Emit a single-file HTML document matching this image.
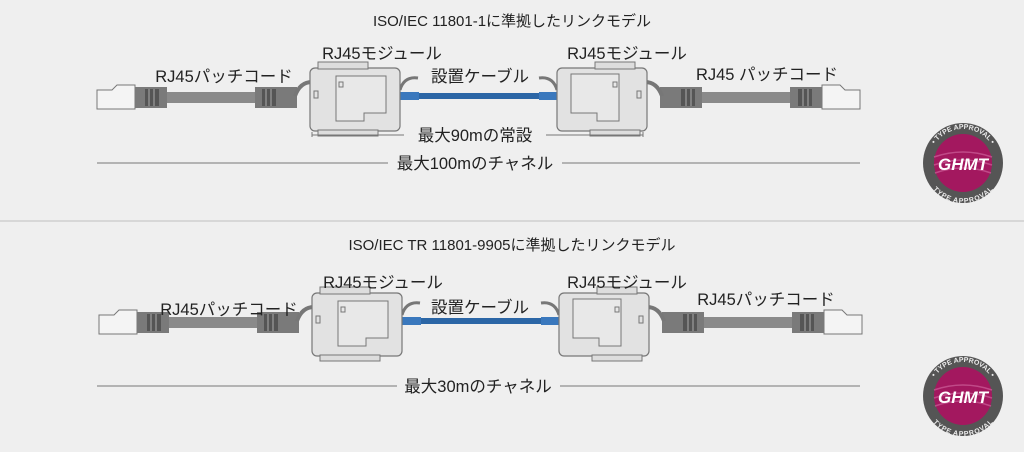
<!DOCTYPE html>
<html><head><meta charset="utf-8"><style>
html,body{margin:0;padding:0;background:#efefef;}
svg{display:block;}
text{font-family:"Liberation Sans","Noto Sans CJK JP",sans-serif;fill:#222;}
</style></head><body>
<svg width="1024" height="452" viewBox="0 0 1024 452" xmlns="http://www.w3.org/2000/svg">
<defs>
<g id="plugL">
  <path d="M97 90 L112 90 L117 85 L135 85 L135 109 L97 109 Z" fill="#f4f4f4" stroke="#777" stroke-width="1"/>
  <rect x="135" y="87" width="32" height="21" fill="#7a7a7a"/>
  <rect x="145" y="89" width="14" height="17" fill="#555"/>
  <line x1="149" y1="89" x2="149" y2="106" stroke="#aaa"/><line x1="154" y1="89" x2="154" y2="106" stroke="#aaa"/>
  <rect x="167" y="92" width="90" height="11" fill="#8a8a8a"/>
  <rect x="255" y="87" width="42" height="21" fill="#7a7a7a"/>
  <rect x="262" y="89" width="14" height="17" fill="#555"/>
  <line x1="266" y1="89" x2="266" y2="106" stroke="#aaa"/><line x1="271" y1="89" x2="271" y2="106" stroke="#aaa"/>
  <path d="M295 96 Q300 82 312 82" fill="none" stroke="#777" stroke-width="4"/>
</g>
<g id="modL">
  <rect x="310" y="68" width="90" height="63" rx="5" fill="#e2e2e2" stroke="#777" stroke-width="1.2"/>
  <rect x="318" y="62" width="50" height="7" fill="#ddd" stroke="#777"/>
  <rect x="318" y="130" width="60" height="6" fill="#ddd" stroke="#777"/>
  <path d="M336 76 L386 76 L386 113 L364 113 L364 121 L336 121 Z" fill="#e8e8e8" stroke="#777"/>
  <rect x="314" y="91" width="4" height="7" fill="none" stroke="#777"/>
  <rect x="339" y="82" width="4" height="5" fill="none" stroke="#777"/>
</g>
<g id="modR">
  <rect x="557" y="68" width="90" height="63" rx="5" fill="#e2e2e2" stroke="#777" stroke-width="1.2"/>
  <rect x="595" y="62" width="40" height="7" fill="#ddd" stroke="#777"/>
  <rect x="590" y="130" width="50" height="6" fill="#ddd" stroke="#777"/>
  <path d="M571 74 L619 74 L619 121 L597 121 L597 113 L571 113 Z" fill="#e8e8e8" stroke="#777"/>
  <rect x="637" y="91" width="4" height="7" fill="none" stroke="#777"/>
  <rect x="613" y="82" width="4" height="5" fill="none" stroke="#777"/>
</g>
<g id="assembly">
  <use href="#plugL"/>
  <use href="#plugL" transform="translate(957 0) scale(-1 1)"/>
  <path d="M400 90 Q404 76 418 78" fill="none" stroke="#777" stroke-width="3"/>
  <path d="M557 90 Q553 76 539 78" fill="none" stroke="#777" stroke-width="3"/>
  <rect x="397" y="93" width="163" height="6" fill="#2b66a6"/>
  <rect x="397" y="92" width="22" height="8" fill="#3a78bd"/>
  <rect x="539" y="92" width="22" height="8" fill="#3a78bd"/>
  <use href="#modL"/>
  <use href="#modR"/>
</g>
<path id="ringTop" d="M-34 0 A34 34 0 0 1 34 0" fill="none"/>
<path id="ringBot" d="M-34 0 A34 34 0 0 0 34 0" fill="none"/>
<g id="badge">
  <circle r="40" fill="#555"/>
  <circle r="29" fill="#a3185f"/>
  <path d="M-29 -6 Q0 -16 29 -6 M-29 2 Q0 -8 29 2 M-28 10 Q0 0 28 10" stroke="#c04a88" stroke-width="1.5" fill="none"/>
  <text font-size="7" font-weight="bold" style="fill:#eee"><textPath href="#ringTop" startOffset="50%" text-anchor="middle">• TYPE APPROVAL •</textPath></text>
  <text font-size="7" font-weight="bold" style="fill:#eee" dy="6"><textPath href="#ringBot" startOffset="50%" text-anchor="middle">TYPE APPROVAL</textPath></text>
  <text x="0" y="7" text-anchor="middle" font-size="17" font-weight="bold" font-style="italic" style="fill:#fff">GHMT</text>
</g>
</defs>

<text x="512" y="26" font-size="15" text-anchor="middle">ISO/IEC 11801-1に準拠したリンクモデル</text>
<use href="#assembly"/>
<text x="382" y="59" font-size="16.5" text-anchor="middle">RJ45モジュール</text>
<text x="627" y="59" font-size="16.5" text-anchor="middle">RJ45モジュール</text>
<text x="224" y="82" font-size="16.5" text-anchor="middle">RJ45パッチコード</text>
<text x="767" y="80" font-size="16.5" text-anchor="middle">RJ45 パッチコード</text>
<text x="480" y="82" font-size="16.5" text-anchor="middle">設置ケーブル</text>
<line x1="312" y1="135" x2="404" y2="135" stroke="#777"/><line x1="546" y1="135" x2="643" y2="135" stroke="#777"/>
<line x1="312" y1="132" x2="312" y2="137" stroke="#777"/><line x1="643" y1="132" x2="643" y2="137" stroke="#777"/>
<text x="475" y="141" font-size="16.5" text-anchor="middle">最大90mの常設</text>
<line x1="97" y1="163" x2="388" y2="163" stroke="#777"/><line x1="562" y1="163" x2="860" y2="163" stroke="#777"/>
<text x="475" y="169" font-size="16.5" text-anchor="middle">最大100mのチャネル</text>
<use href="#badge" transform="translate(963 163)"/>

<line x1="0" y1="221" x2="1024" y2="221" stroke="#cfcfcf" stroke-width="1.5"/>

<text x="512" y="250" font-size="15" text-anchor="middle">ISO/IEC TR 11801-9905に準拠したリンクモデル</text>
<use href="#assembly" transform="translate(2 225)"/>
<text x="383" y="288" font-size="16.5" text-anchor="middle">RJ45モジュール</text>
<text x="627" y="288" font-size="16.5" text-anchor="middle">RJ45モジュール</text>
<text x="229" y="315" font-size="16.5" text-anchor="middle">RJ45パッチコード</text>
<text x="766" y="305" font-size="16.5" text-anchor="middle">RJ45パッチコード</text>
<text x="480" y="313" font-size="16.5" text-anchor="middle">設置ケーブル</text>
<line x1="97" y1="386" x2="397" y2="386" stroke="#777"/><line x1="560" y1="386" x2="860" y2="386" stroke="#777"/>
<text x="478" y="392" font-size="16.5" text-anchor="middle">最大30mのチャネル</text>
<use href="#badge" transform="translate(963 396)"/>
</svg>
</body></html>
